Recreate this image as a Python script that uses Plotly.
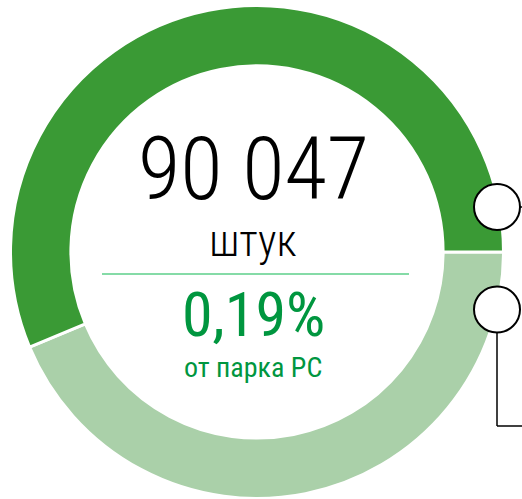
import plotly.graph_objects as go

# ---- data ----
segment_labels = ["остальное", "90 047 штук"]
segment_values = [43.7, 56.3]
segment_colors = ["#aad0a9", "#3a9a35"]

main_value_text = "90 047"
unit_text = "штук"
share_text = "0,19%"
share_caption = "от парка PC"

W, H = 522, 499


def px(x):
    return x / W


def py(y):
    return 1 - y / H


fig = go.Figure()
fig.add_trace(go.Pie(
    labels=segment_labels,
    values=segment_values,
    hole=0.755,
    sort=False,
    direction="clockwise",
    rotation=90,
    textinfo="none",
    hoverinfo="label+percent",
    marker=dict(colors=segment_colors, line=dict(color="white", width=3)),
    domain=dict(x=[px(10.5), px(503.5)], y=[0, py(5)]),
    showlegend=False,
))

shapes = []
# connector lines
shapes.append(dict(type="line", xref="paper", yref="paper",
                   x0=px(497), y0=py(332), x1=px(497), y1=py(426),
                   line=dict(color="black", width=1.5)))
shapes.append(dict(type="line", xref="paper", yref="paper",
                   x0=px(497), y0=py(426), x1=px(522), y1=py(426),
                   line=dict(color="black", width=1.5)))
shapes.append(dict(type="line", xref="paper", yref="paper",
                   x0=px(519), y0=py(207), x1=px(522), y1=py(207),
                   line=dict(color="black", width=1.5)))
# marker circles
for cy in (207, 309.5):
    shapes.append(dict(type="circle", xref="paper", yref="paper",
                       x0=px(474), x1=px(520), y0=py(cy + 23), y1=py(cy - 23),
                       fillcolor="white", line=dict(color="black", width=2)))
# divider line
shapes.append(dict(type="line", xref="paper", yref="paper",
                   x0=px(102), y0=py(274), x1=px(409), y1=py(274),
                   line=dict(color="#5ccf8a", width=1.5)))

font_main = "Roboto Condensed, Liberation Sans Narrow, Roboto, sans-serif"
annotations = [
    dict(text=main_value_text, x=px(253), y=py(169), xref="paper", yref="paper",
         showarrow=False, xanchor="center", yanchor="middle",
         font=dict(family=font_main, size=87, color="black", weight=300)),
    dict(text=unit_text, x=px(253), y=py(241), xref="paper", yref="paper",
         showarrow=False, xanchor="center", yanchor="middle",
         font=dict(family=font_main, size=44, color="black", weight=300)),
    dict(text=share_text, x=px(253), y=py(314), xref="paper", yref="paper",
         showarrow=False, xanchor="center", yanchor="middle",
         font=dict(family=font_main, size=62, color="#00963f")),
    dict(text=share_caption, x=px(253), y=py(367), xref="paper", yref="paper",
         showarrow=False, xanchor="center", yanchor="middle",
         font=dict(family=font_main, size=28, color="#00963f")),
]

fig.update_layout(
    width=W, height=H,
    margin=dict(l=0, r=0, t=0, b=0),
    paper_bgcolor="white", plot_bgcolor="white",
    shapes=shapes, annotations=annotations,
)

fig.write_html("out.html", config={"displayModeBar": False},
               post_script="document.body.style.margin='0';")
